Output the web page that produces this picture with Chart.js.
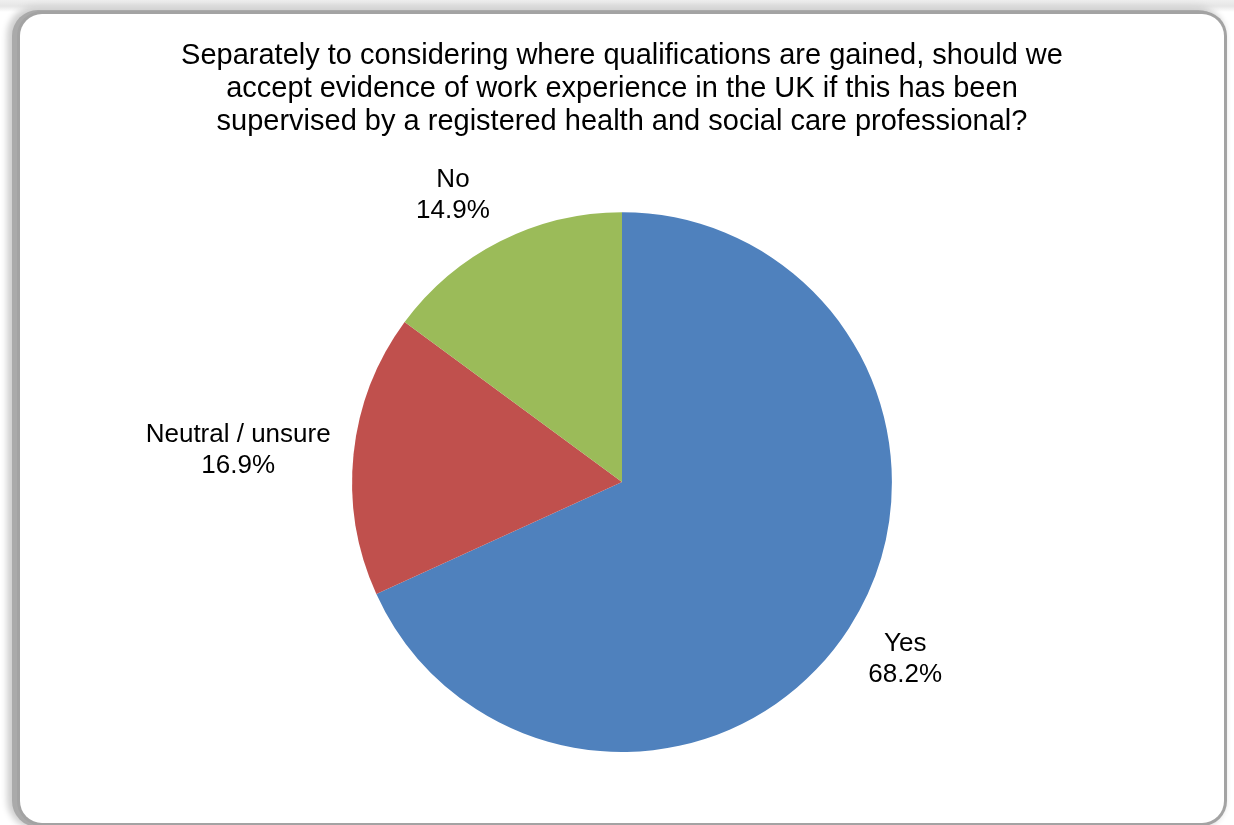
<!DOCTYPE html>
<html>
<head>
<meta charset="utf-8">
<script src="https://cdn.jsdelivr.net/npm/chart.js@4.4.1/dist/chart.umd.min.js"></script>
<style>
    html, body { margin: 0; padding: 0; background: #ffffff; }
    body { width: 1234px; height: 825px; overflow: hidden; position: relative; }
    /* top strip of the shadow */
    .backdrop {
        position: absolute; left: 0; top: 0; width: 1234px; height: 825px;
        background: linear-gradient(to bottom, #efefef 0px, #e6e6e6 6px, #ffffff 12px);
    }
    .frame {
        position: absolute; left: 20px; top: 14px; width: 1204px; height: 809px;
        background: #ffffff; border-radius: 22px; overflow: hidden;
        box-shadow: 0 0 0 3px #a3a3a3, -4px 0 0 4px #aaaaaa, -6px -1px 6px 7px #cfcfcf;
    }
    canvas { display: block; }
</style>
</head>
<body>
<div class="backdrop"></div>
<div class="frame">
    <canvas id="pieChart" width="1204" height="811"></canvas>
</div>
<script>
// Werte der Umfrage
const categories = ['Yes', 'Neutral / unsure', 'No'];
const shares = [68.2, 16.9, 14.9];
const sliceColors = ['#4f81bd', '#c0504d', '#9bbb59'];
const titleLines = [
    'Separately to considering where qualifications are gained, should we',
    'accept evidence of work experience in the UK if this has been',
    'supervised by a registered health and social care professional?'
];

const FONT = 'Arial, "Liberation Sans", sans-serif';
const LABEL_SIZE = 26;
const LABEL_LINE = 31;

// Beschriftungen ausserhalb der Segmente (Kategorie + Prozent)
const outsideLabels = {
    id: 'outsideLabels',
    afterDatasetsDraw(chart) {
        const ctx = chart.ctx;
        const meta = chart.getDatasetMeta(0);
        ctx.save();
        ctx.font = LABEL_SIZE + 'px ' + FONT;
        ctx.fillStyle = '#000000';
        ctx.textAlign = 'center';
        ctx.textBaseline = 'middle';
        meta.data.forEach((arc, i) => {
            const p = arc.getProps(['x', 'y', 'startAngle', 'endAngle', 'outerRadius'], true);
            const mid = (p.startAngle + p.endAngle) / 2;
            const c = Math.cos(mid), s = Math.sin(mid);
            const lines = [categories[i], shares[i].toFixed(1) + '%'];
            const w = Math.max(...lines.map(t => ctx.measureText(t).width));
            const h = lines.length * LABEL_LINE;
            const r = p.outerRadius + 23;
            const ax = p.x + c * r, ay = p.y + s * r;
            const cx = ax + Math.sign(c) * w / 2;
            const cy = ay + s * h / 2;
            lines.forEach((t, k) => {
                ctx.fillText(t, cx, cy + 2 + (k - (lines.length - 1) / 2) * LABEL_LINE);
            });
        });
        ctx.restore();
    }
};

new Chart(document.getElementById('pieChart'), {
    type: 'pie',
    data: {
        labels: categories,
        datasets: [{
            data: shares,
            backgroundColor: sliceColors,
            borderWidth: 0
        }]
    },
    options: {
        responsive: false,
        animation: false,
        layout: { padding: { bottom: 73 } },
        plugins: {
            legend: { display: false },
            tooltip: { enabled: false },
            title: {
                display: true,
                text: titleLines,
                color: '#000000',
                font: { family: FONT, size: 29, weight: 'normal', lineHeight: 1.14 },
                padding: { top: 25, bottom: 74 }
            }
        }
    },
    plugins: [outsideLabels]
});
</script>
</body>
</html>
